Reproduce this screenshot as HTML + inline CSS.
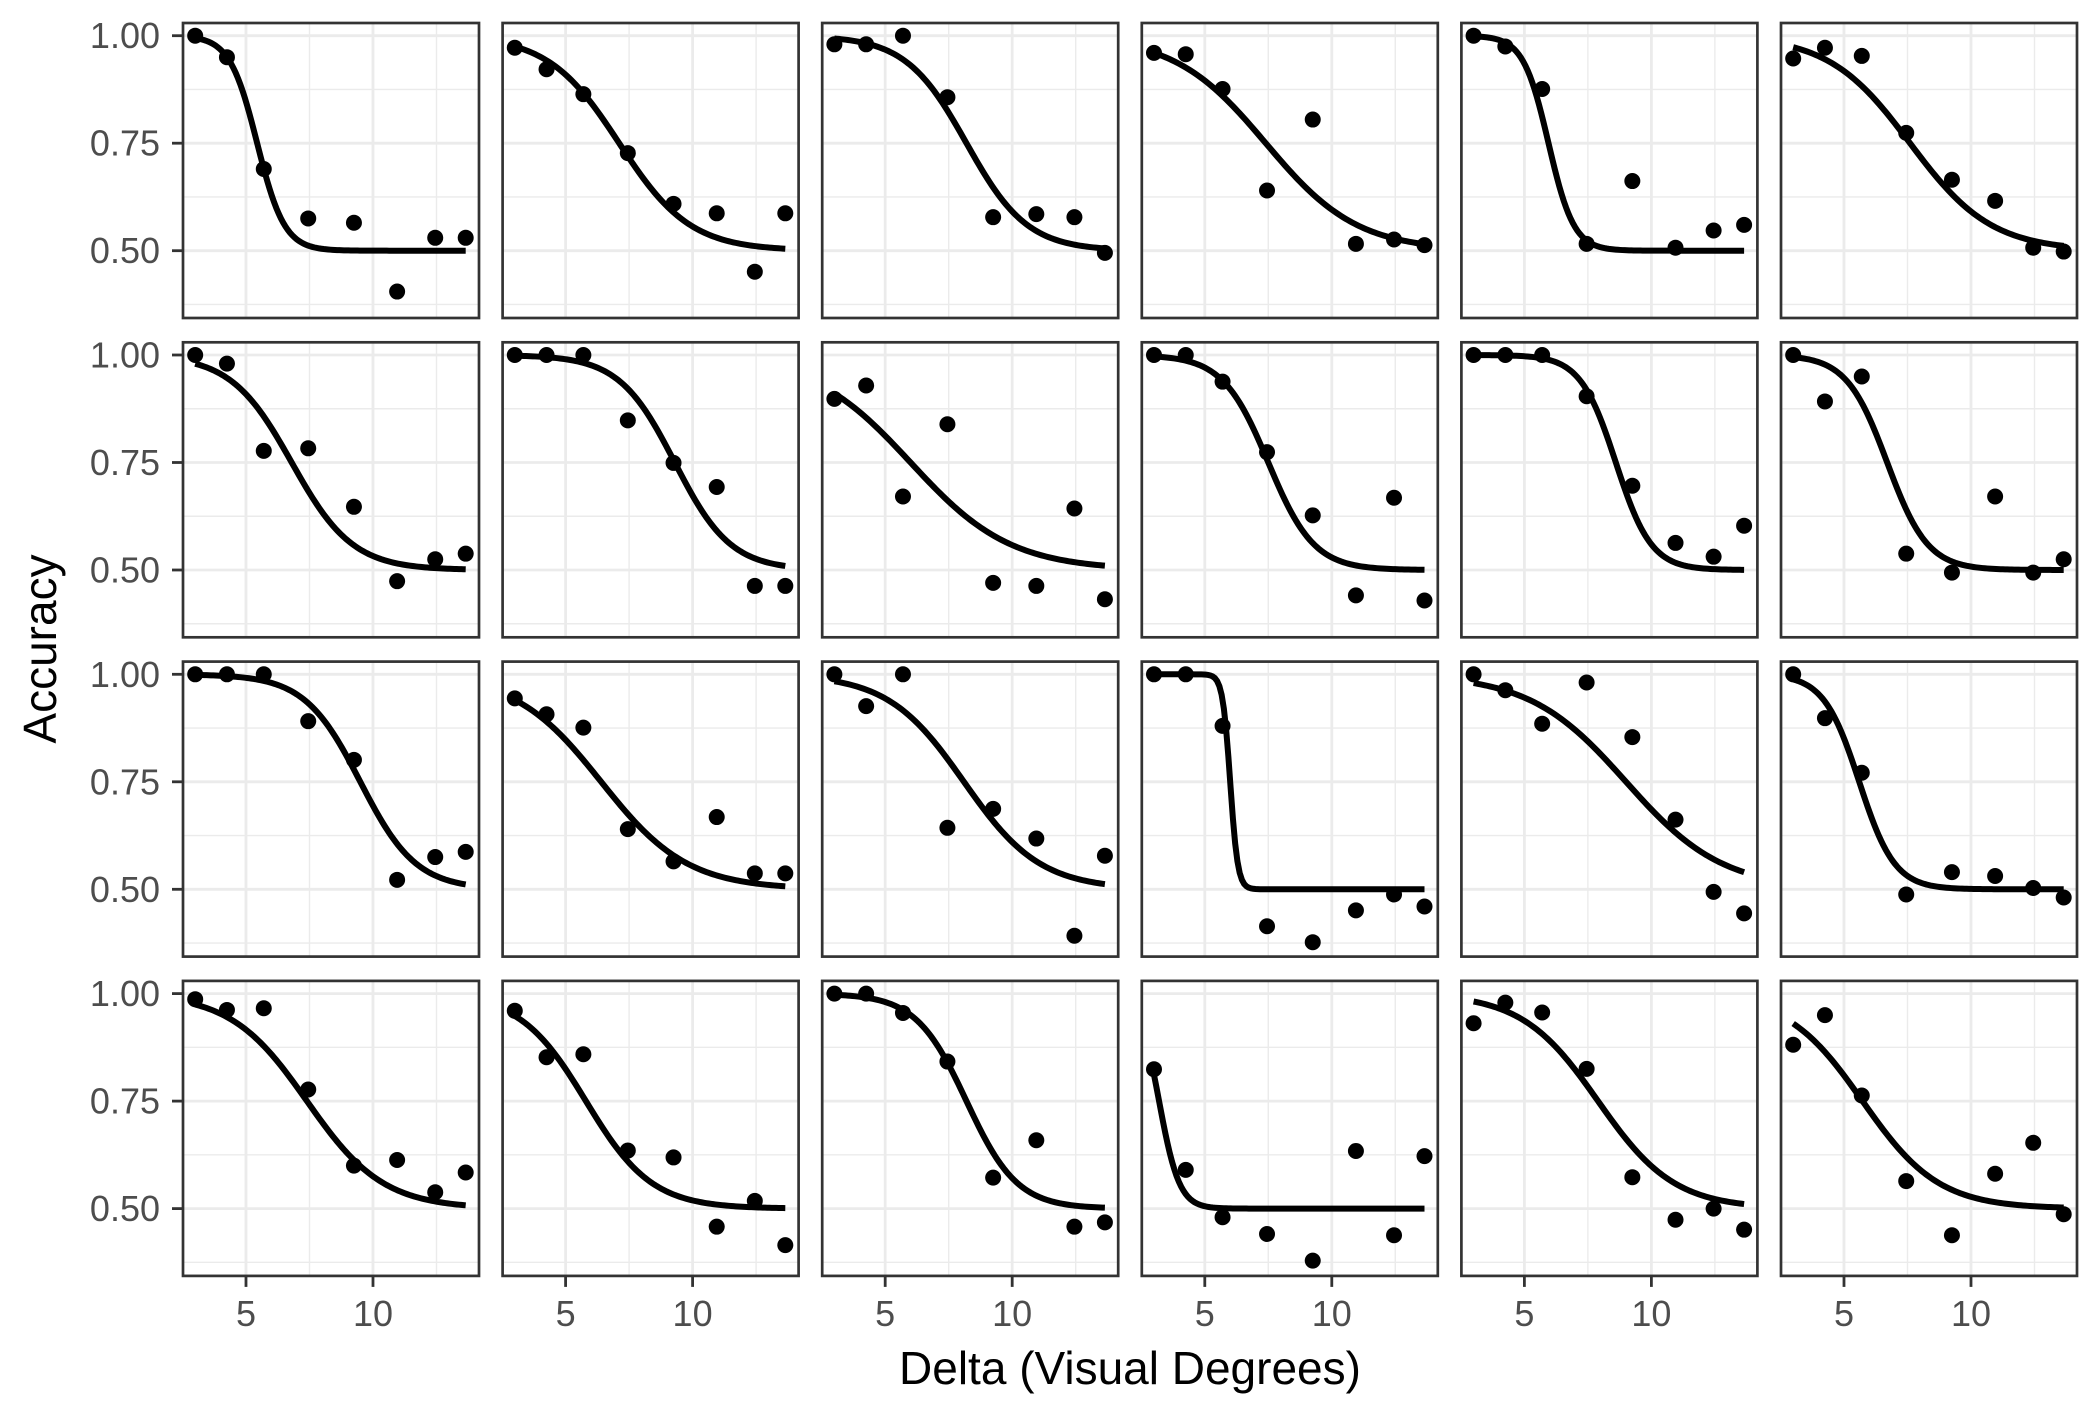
<!DOCTYPE html>
<html><head><meta charset="utf-8"><style>
html,body{margin:0;padding:0;background:#fff;}
svg{display:block;font-family:"Liberation Sans",Arial,sans-serif;}
</style></head><body>
<svg id="chart" width="2100" height="1415" viewBox="0 0 2100 1415" xmlns="http://www.w3.org/2000/svg">
<rect width="2100" height="1415" fill="#fff"/>
<text x="0" y="0" transform="translate(56,649) rotate(-90)" text-anchor="middle" font-size="46" fill="#000">Accuracy</text>
<text x="1130" y="1384" text-anchor="middle" font-size="46" fill="#000">Delta (Visual Degrees)</text>
</svg>
<script>
const deltas = [3.0, 4.25, 5.7, 7.45, 9.25, 10.95, 12.45, 13.65];
const accuracy = [
 [1.0,0.95,0.69,0.575,0.565,0.405,0.53,0.53],
 [0.972,0.922,0.864,0.727,0.609,0.587,0.451,0.587],
 [0.98,0.98,1.0,0.857,0.578,0.585,0.578,0.495],
 [0.96,0.957,0.876,0.64,0.805,0.516,0.526,0.513],
 [1.0,0.975,0.876,0.516,0.662,0.507,0.547,0.56],
 [0.947,0.972,0.953,0.774,0.665,0.616,0.507,0.498],
 [1.0,0.98,0.777,0.783,0.647,0.474,0.525,0.538],
 [1.0,1.0,1.0,0.848,0.749,0.693,0.463,0.463],
 [0.898,0.929,0.671,0.839,0.47,0.463,0.643,0.432],
 [1.0,1.0,0.938,0.774,0.627,0.441,0.668,0.429],
 [1.0,1.0,1.0,0.904,0.696,0.563,0.531,0.603],
 [1.0,0.892,0.95,0.538,0.494,0.671,0.494,0.525],
 [1.0,1.0,1.0,0.891,0.801,0.522,0.575,0.587],
 [0.944,0.907,0.876,0.64,0.565,0.668,0.537,0.537],
 [1.0,0.926,1.0,0.643,0.687,0.618,0.392,0.578],
 [1.0,1.0,0.88,0.414,0.377,0.451,0.488,0.46],
 [1.0,0.963,0.885,0.981,0.854,0.662,0.494,0.444],
 [1.0,0.898,0.771,0.488,0.54,0.531,0.503,0.481],
 [0.987,0.962,0.966,0.777,0.6,0.613,0.538,0.584],
 [0.96,0.852,0.859,0.635,0.619,0.458,0.518,0.415],
 [1.0,1.0,0.955,0.842,0.572,0.659,0.458,0.468],
 [0.824,0.59,0.48,0.441,0.379,0.634,0.438,0.622],
 [0.931,0.979,0.956,0.825,0.573,0.474,0.5,0.451],
 [0.881,0.95,0.763,0.564,0.438,0.581,0.653,0.487]
];
const fitMu = [5.44,7.11,8.2,7.4,5.95,7.6, 6.8,9.3,6.0,7.5,8.6,6.7, 9.5,6.4,8.1,6.0,9.0,5.6, 7.4,5.8,8.2,3.2,7.9,5.73];
const fitScale = [0.54,1.4,1.2,1.8,0.5,1.6, 1.2,1.1,1.97,0.9,0.7,0.8, 1.1,1.7,1.5,0.15,1.9,0.7, 1.5,1.3,1.0,0.4,1.5,1.5];
const xTicks = [5, 10];
const xMinor = [7.5, 12.5];
const yTicks = [0.5, 0.75, 1.0];
const yTickLabels = ["0.50", "0.75", "1.00"];
const yMinor = [0.375, 0.625, 0.875];

const NS = "http://www.w3.org/2000/svg";
const svg = document.getElementById('chart');
const PW = 296, PH = 295, COLX = 319.6, ROWY = 319.3, LEFT0 = 183, TOP0 = 23;
function mk(tag, attrs, parent) {
  const e = document.createElementNS(NS, tag);
  for (const k in attrs) e.setAttribute(k, attrs[k]);
  parent.appendChild(e); return e;
}
function xs(v){ return (v - 2.52) * 25.4; }
function ys(v){ return 12.7 + (1 - v) * 430; }
function fit(x, mu, s){ return 0.5 + 0.5 / (1 + Math.exp((x - mu) / s)); }

for (let p = 0; p < 24; p++) {
  const r = Math.floor(p / 6), c = p % 6;
  const px = LEFT0 + c * COLX, py = TOP0 + r * ROWY;
  const g = mk('g', {transform: `translate(${px},${py})`}, svg);
  
  
  mk('rect', {x:0, y:0, width:PW, height:PH, fill:'#fff'}, g);
  yMinor.forEach(v => { const l = mk('line', {x1:0, x2:PW, y1:ys(v), y2:ys(v), stroke:'#ebebeb', 'stroke-width':1.4}, g);   });
  xMinor.forEach(v => { const l = mk('line', {x1:xs(v), x2:xs(v), y1:0, y2:PH, stroke:'#ebebeb', 'stroke-width':1.4}, g);   });
  yTicks.forEach(v => { const l = mk('line', {x1:0, x2:PW, y1:ys(v), y2:ys(v), stroke:'#ebebeb', 'stroke-width':2.8}, g);   });
  xTicks.forEach(v => { const l = mk('line', {x1:xs(v), x2:xs(v), y1:0, y2:PH, stroke:'#ebebeb', 'stroke-width':2.8}, g);   });
  let d = '';
  const x0 = deltas[0], x1 = deltas[deltas.length - 1];
  for (let i = 0; i <= 120; i++) {
    const x = x0 + (x1 - x0) * i / 120;
    d += (i ? 'L' : 'M') + xs(x).toFixed(2) + ',' + ys(fit(x, fitMu[p], fitScale[p])).toFixed(2);
  }
  const path = mk('path', {d:d, fill:'none', stroke:'#000', 'stroke-width':6}, g);
  
  
  accuracy[p].forEach((v, i) => {
    const ci = mk('circle', {cx:xs(deltas[i]), cy:ys(v), r:8, fill:'#000'}, g);
    
    
  });
  const b = mk('rect', {x:0, y:0, width:PW, height:PH, fill:'none', stroke:'#333', 'stroke-width':2.7}, g);
  
  
  if (c === 0) {
    yTicks.forEach((v, i) => {
      const t = mk('line', {x1:-11, x2:0, y1:ys(v), y2:ys(v), stroke:'#333', 'stroke-width':2.8}, g);
      
      
      const tx = mk('text', {x:-23, y:ys(v) + 12.5, 'text-anchor':'end', 'font-size':36, fill:'#4d4d4d'}, g);
      
      
      tx.textContent = yTickLabels[i];
    });
  }
  if (r === 3) {
    xTicks.forEach(v => {
      const t = mk('line', {x1:xs(v), x2:xs(v), y1:PH, y2:PH + 11, stroke:'#333', 'stroke-width':2.8}, g);
      
      
      const tx = mk('text', {x:xs(v), y:PH + 50, 'text-anchor':'middle', 'font-size':36, fill:'#4d4d4d'}, g);
      
      
      tx.textContent = String(v);
    });
  }
}
</script>
</body></html>
